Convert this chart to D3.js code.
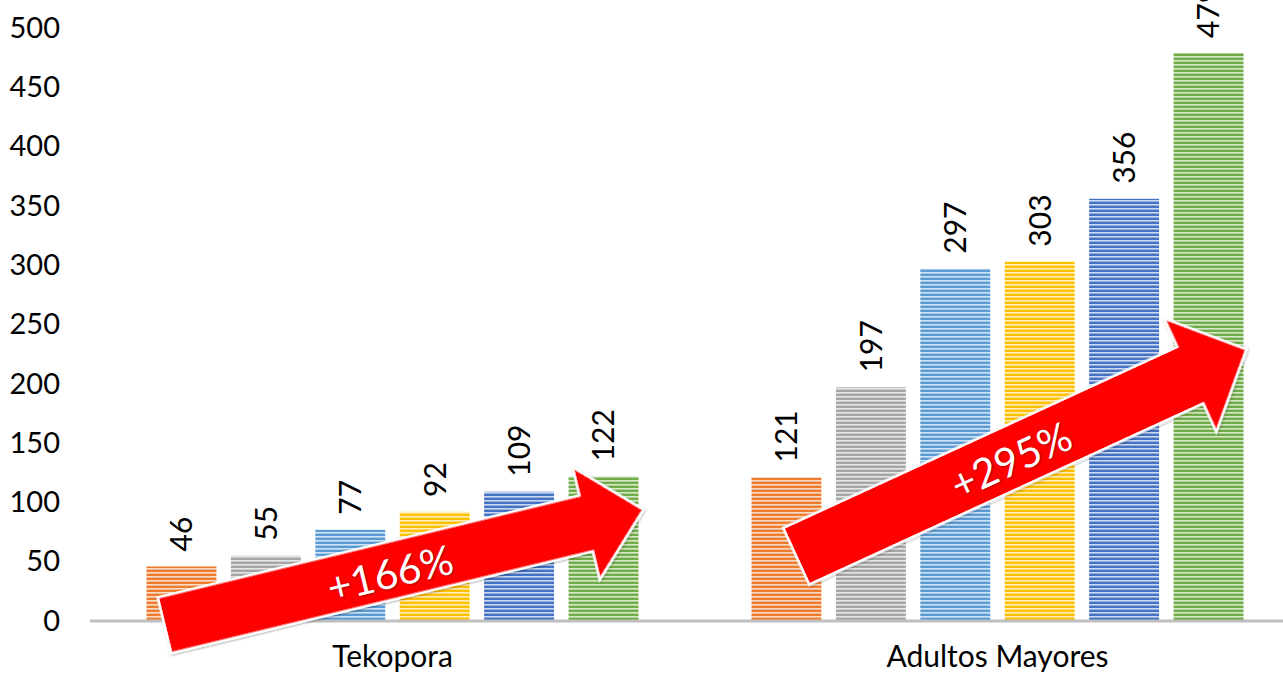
<!DOCTYPE html>
<html>
<head>
<meta charset="utf-8">
<script src="https://cdn.jsdelivr.net/npm/d3@7"></script>
<style>
  html, body { margin: 0; padding: 0; background: #fff; }
  svg { display: block; }
  text { font-family: "Lato", "Open Sans", sans-serif; }
</style>
</head>
<body>
<svg id="chart" width="1283" height="678"></svg>
<script>
// ---- data ----
const categories = ["Tekopora", "Adultos Mayores"];
const seriesNames = ["Serie 1", "Serie 2", "Serie 3", "Serie 4", "Serie 5", "Serie 6"];
const seriesColors = ["#ED7D31", "#A5A5A5", "#5B9BD5", "#FFC000", "#4472C4", "#70AD47"];
const tekoporaValues = [46, 55, 77, 92, 109, 122];
const adultosValues = [121, 197, 297, 303, 356, 479];
const yTicks = [0, 50, 100, 150, 200, 250, 300, 350, 400, 450, 500];
const arrowLabels = ["+166%", "+295%"];

const valuesByCategory = [tekoporaValues, adultosValues];

// ---- layout ----
const W = 1283, H = 678;
const svg = d3.select("#chart");

const y = d3.scaleLinear().domain([0, 500]).range([621, 28]);
const x0 = d3.scaleBand().domain(categories).range([90, 1300]).padding(0);
const x1 = d3.scaleBand().domain(seriesNames)
  .range([56.5, x0.bandwidth() - 56.5]).paddingInner(0.1716).paddingOuter(0);

// stripe patterns
const defs = svg.append("defs");
seriesColors.forEach((c, i) => {
  const p = defs.append("pattern")
    .attr("id", "stripe" + i)
    .attr("patternUnits", "userSpaceOnUse")
    .attr("width", 8).attr("height", 4);
  p.append("rect").attr("width", 8).attr("height", 4).attr("fill", c);
  p.append("rect").attr("y", 0).attr("width", 8).attr("height", 1.6)
    .attr("fill", "#fff").attr("opacity", 0.72);
});
const shadow = defs.append("filter").attr("id", "shadow")
  .attr("x", "-10%").attr("y", "-20%").attr("width", "120%").attr("height", "140%");
shadow.append("feDropShadow").attr("dx", 0.5).attr("dy", 1).attr("stdDeviation", 1.2)
  .attr("flood-color", "#000").attr("flood-opacity", 0.35);

// y axis tick labels
const yAxis = d3.axisLeft(y).tickValues(yTicks).tickSize(0).tickPadding(0);
const gy = svg.append("g").attr("transform", "translate(60,0)").call(yAxis);
gy.select(".domain").remove();
gy.selectAll("text")
  .attr("font-size", 29).attr("fill", "#000")
  .attr("font-family", "Lato, 'Open Sans', sans-serif");

// bars
const groups = svg.append("g").selectAll("g")
  .data(categories)
  .join("g")
  .attr("transform", d => `translate(${x0(d)},0)`);

groups.each(function(cat, ci) {
  const g = d3.select(this);
  const rows = valuesByCategory[ci].map((v, si) => ({ v, si, name: seriesNames[si] }));
  g.selectAll("rect.bar").data(rows).join("rect")
    .attr("class", "bar")
    .attr("x", d => x1(d.name))
    .attr("width", x1.bandwidth())
    .attr("y", d => y(d.v))
    .attr("height", d => y(0) - y(d.v))
    .attr("fill", d => `url(#stripe${d.si})`);
  g.selectAll("text.lbl").data(rows).join("text")
    .attr("class", "lbl")
    .attr("transform", d => `translate(${x1(d.name) + x1.bandwidth() / 2},${y(d.v) - 15}) rotate(-90)`)
    .attr("text-anchor", "start")
    .attr("dy", "0.36em")
    .attr("font-size", 30)
    .attr("fill", "#000")
    .text(d => d.v);
});

// x axis line
svg.append("line")
  .attr("x1", 90).attr("x2", W)
  .attr("y1", y(0)).attr("y2", y(0))
  .attr("stroke", "#BFBFBF").attr("stroke-width", 3);

// category labels
const xAxis = d3.axisBottom(x0).tickSize(0).tickPadding(0);
const gx = svg.append("g").attr("transform", `translate(0,${y(0) + 25})`).call(xAxis);
gx.select(".domain").remove();
gx.selectAll("text").attr("font-size", 30).attr("fill", "#000")
  .attr("font-family", "Lato, 'Open Sans', sans-serif")
  .attr("dy", "0.71em");

// arrows (annotation): anchors given as (fraction of category band, value)
const arrowSpecs = [
  { cat: 0, from: [0.125, -3.4], to: [0.912, 93.6], shaft: 55, head: 110, headLen: 56, textAt: 0.47 },
  { cat: 1, from: [0.169, 55], to: [0.909, 228.5], shaft: 60, head: 119, headLen: 59, textAt: 0.475 }
];
arrowSpecs.forEach((a, i) => {
  const band = x0(categories[a.cat]);
  const ax = band + a.from[0] * x0.bandwidth(), ay = y(a.from[1]);
  const bx = band + a.to[0] * x0.bandwidth(), by = y(a.to[1]);
  const L = Math.hypot(bx - ax, by - ay);
  const ang = Math.atan2(by - ay, bx - ax) * 180 / Math.PI;
  const s = a.shaft / 2, h = a.head / 2, hl = a.headLen;
  const pts = [[0, -s], [L - hl, -s], [L - hl, -h], [L, 0], [L - hl, h], [L - hl, s], [0, s]];
  const g = svg.append("g").attr("transform", `translate(${ax},${ay}) rotate(${ang})`);
  g.append("polygon")
    .attr("points", pts.map(p => p.join(",")).join(" "))
    .attr("fill", "#FF0000")
    .attr("stroke", "#fff").attr("stroke-width", 5)
    .attr("stroke-linejoin", "miter")
    .style("paint-order", "stroke")
    .attr("filter", "url(#shadow)");
  g.append("text")
    .attr("x", L * a.textAt).attr("y", 0)
    .attr("text-anchor", "middle")
    .attr("dy", "0.42em")
    .attr("font-size", 41)
    .attr("fill", "#fff")
    .style("text-shadow", "1px 1px 2px rgba(0,0,0,0.35)")
    .text(arrowLabels[i]);
});
</script>
</body>
</html>
